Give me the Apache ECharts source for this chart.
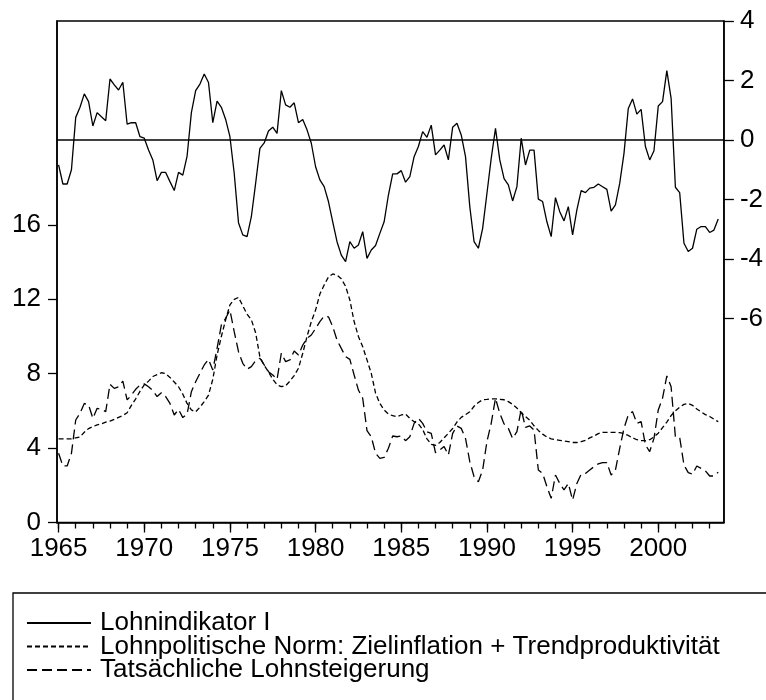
<!DOCTYPE html>
<html><head><meta charset="utf-8">
<script src="https://cdn.jsdelivr.net/npm/echarts@6/dist/echarts.min.js"></script>
<style>html,body{margin:0;padding:0;background:#fff}#c{width:766px;height:700px}</style>
</head><body><div id="c"></div>
<script>
// Quarterly data, first observation 1965Q1
const startYear = 1965;
const seriesNames = ['Lohnindikator I', 'Lohnpolitische Norm: Zielinflation + Trendproduktivität', 'Tatsächliche Lohnsteigerung'];

// Lohnindikator I (right axis)
const lohnindikator = [
 -0.84,-1.48,-1.48,-1.0, 0.76,1.1,1.55,1.29, 0.47,0.92,0.78,0.65, 2.05,1.85,1.68,1.94,
 0.53,0.58,0.58,0.11, 0.06,-0.34,-0.67,-1.37, -1.09,-1.09,-1.4,-1.7, -1.09,-1.18,-0.54,0.92,
 1.66,1.88,2.22,1.93, 0.58,1.31,1.1,0.69, 0.11,-1.12,-2.78,-3.19, -3.25,-2.58,-1.46,-0.28,
 -0.1,0.3,0.43,0.22, 1.66,1.18,1.1,1.25, 0.58,0.69,0.34,-0.11, -0.9,-1.34,-1.57,-2.07,
 -2.75,-3.42,-3.87,-4.09, -3.42,-3.64,-3.53,-3.08, -3.98,-3.7,-3.55,-3.14, -2.75,-1.85,-1.14,-1.14,
 -1.03,-1.42,-1.23,-0.56, -0.22,0.28,0.09,0.5, -0.5,-0.34,-0.17,-0.67, 0.43,0.56,0.17,-0.56,
 -2.24,-3.42,-3.64,-2.97, -1.8,-0.62,0.39,-0.67, -1.3,-1.51,-2.05,-1.57, 0.06,-0.84,-0.34,-0.34,
 -1.99,-2.07,-2.75,-3.25, -1.94,-2.41,-2.72,-2.24, -3.19,-2.35,-1.7,-1.77, -1.62,-1.59,-1.48,-1.57,
 -1.66,-2.39,-2.18,-1.46, -0.45,1.06,1.38,0.87, 1.03,-0.22,-0.67,-0.36, 1.14,1.29,2.33,1.4,
 -1.59,-1.77,-3.47,-3.75, -3.64,-3.0,-2.91,-2.91, -3.11,-3.03,-2.66
];

// Lohnpolitische Norm (left axis)
const norm = [
 4.5,4.5,4.5,4.5, 4.55,4.6,4.85,5.05, 5.15,5.25,5.3,5.4, 5.45,5.55,5.65,5.75,
 5.9,6.3,6.65,7.05, 7.4,7.6,7.85,7.95, 8.05,8.0,7.8,7.55, 7.3,6.9,6.4,6.05,
 5.95,6.2,6.5,6.85, 7.7,9.0,10.0,10.9, 11.7,12.0,12.1,11.65, 11.2,10.9,10.2,8.9,
 8.45,8.1,7.7,7.4, 7.3,7.35,7.6,7.9, 8.29,9.1,10.0,10.8, 11.42,12.28,12.77,13.2,
 13.36,13.3,13.1,12.7, 11.96,10.8,10.0,9.45, 8.74,8.02,6.95,6.4, 6.05,5.83,5.74,5.69,
 5.78,5.83,5.6,5.42, 5.3,5.0,4.5,4.2, 4.15,4.3,4.55,4.8, 5.05,5.4,5.65,5.8,
 5.95,6.25,6.45,6.6, 6.62,6.65,6.65,6.62, 6.6,6.5,6.35,6.15, 5.9,5.7,5.5,5.2,
 4.95,4.75,4.6,4.5, 4.45,4.42,4.38,4.35, 4.3,4.3,4.35,4.42, 4.55,4.65,4.78,4.85,
 4.85,4.85,4.85,4.83, 4.78,4.68,4.55,4.45, 4.4,4.4,4.45,4.6, 4.8,5.1,5.4,5.75,
 6.0,6.2,6.35,6.4, 6.3,6.1,5.95,5.8, 5.7,5.55,5.42
];

// Tatsächliche Lohnsteigerung (left axis)
const actual = [
 3.72,3.04,3.04,3.72, 5.51,5.87,6.4,6.32, 5.6,6.14,6.08,5.96, 7.43,7.21,7.3,7.6,
 6.59,6.85,7.16,7.39, 7.45,7.3,7.09,6.77, 6.98,6.77,6.4,5.78, 6.08,5.64,5.83,7.03,
 7.57,8.02,8.47,8.77, 8.2,9.36,10.62,10.98, 11.42,10.26,9.18,8.56, 8.24,8.38,8.7,8.83,
 8.47,8.11,7.93,7.7, 9.1,8.65,8.74,9.22, 9.0,9.54,9.9,10.08, 10.43,10.8,11.1,11.06,
 10.53,9.81,9.36,8.92, 8.77,7.93,7.12,6.68, 4.94,4.61,3.72,3.45, 3.5,3.99,4.65,4.61,
 4.65,4.4,4.61,5.33, 5.6,5.33,4.88,4.79, 3.75,3.9,4.08,3.63, 4.79,5.19,5.06,4.52,
 3.27,2.46,2.19,2.82, 4.35,5.33,6.68,5.87, 5.3,5.06,4.52,4.88, 6.08,5.11,5.19,4.97,
 2.82,2.64,1.93,1.3, 2.55,2.1,1.75,2.1, 1.21,2.1,2.6,2.64, 2.82,3.0,3.15,3.22,
 3.22,2.55,2.82,3.99, 5.06,5.78,5.96,5.33, 5.42,4.17,3.81,4.52, 6.05,6.68,7.88,7.3,
 4.61,4.58,3.09,2.68, 2.6,3.04,2.91,2.78, 2.5,2.5,2.7
];

const xTickYears = [1965,1966,1967,1968,1969,1970,1971,1972,1973,1974,1975,1976,1977,1978,1979,1980,1981,1982,1983,1984,1985,1986,1987,1988,1989,1990,1991,1992,1993,1994,1995,1996,1997,1998,1999,2000,2001,2002,2003];
const xLabelYears = [1965,1970,1975,1980,1985,1990,1995,2000];
const leftLabels = [0,4,8,12,16];
const rightLabels = [-6,-4,-2,0,2,4];

const quarters = lohnindikator.map((_, i) => startYear + i / 4);
const pairs = arr => arr.map((v, i) => [quarters[i], v]);

const FONT = "'Liberation Sans', Arial, sans-serif";
const black = '#000';
const clear = 'rgba(0,0,0,0)';
const xMin = 1964.907, xMax = 2003.83;

const chart = echarts.init(document.getElementById('c'), null, {renderer: 'canvas'});
chart.setOption({
  animation: false,
  backgroundColor: '#fff',
  textStyle: {fontFamily: FONT},
  grid: {left: 57, top: 21, width: 671, height: 501.5, show: true, borderColor: black, borderWidth: 1.5, backgroundColor: 'transparent'},
  xAxis: [
    {type: 'value', min: xMin, max: xMax, position: 'bottom',
     axisLine: {show: true, onZero: false, lineStyle: {color: black, width: 1.5}},
     axisTick: {show: true, customValues: xTickYears, length: 6, lineStyle: {color: black, width: 1.3}},
     axisLabel: {show: false}, splitLine: {show: false}},
    {type: 'value', min: xMin, max: xMax, position: 'bottom',
     axisLine: {show: false, onZero: false},
     axisTick: {show: true, customValues: xLabelYears, length: 10, lineStyle: {color: black, width: 1.3}},
     axisLabel: {show: true, customValues: xLabelYears, formatter: v => String(v), fontSize: 26, color: black, fontFamily: FONT, margin: 13},
     splitLine: {show: false}}
  ],
  yAxis: [
    {type: 'value', min: 0, max: 26.96, position: 'left',
     axisLine: {show: true, onZero: false, lineStyle: {color: black, width: 1.5}},
     axisTick: {show: true, customValues: leftLabels, length: 9, lineStyle: {color: black, width: 1.3}},
     axisLabel: {show: true, customValues: leftLabels, formatter: v => String(v), fontSize: 26, color: black, fontFamily: FONT, margin: 16},
     splitLine: {show: false}},
    {type: 'value', min: -12.86, max: 4, position: 'right',
     axisLine: {show: true, onZero: false, lineStyle: {color: black, width: 1.5}},
     axisTick: {show: true, customValues: rightLabels, length: 10, lineStyle: {color: black, width: 1.3}},
     axisLabel: {show: true, customValues: rightLabels, formatter: v => String(v), fontSize: 26, color: black, fontFamily: FONT, margin: 16},
     splitLine: {show: false}}
  ],
  legend: {
    orient: 'vertical', left: 26, top: 610, padding: 0, itemWidth: 64, itemHeight: 2, itemGap: -2.5,
    selectedMode: false, data: seriesNames,
    itemStyle: {color: clear, borderColor: clear, borderWidth: 0, opacity: 0},
    textStyle: {fontSize: 26, color: black, fontFamily: FONT, lineHeight: 26, padding: [0, 0, 0, 4]}
  },
  graphic: [{type: 'rect', shape: {x: 13, y: 593, width: 800, height: 200}, style: {fill: 'none', stroke: black, lineWidth: 1.3}, silent: true}],
  series: [
    {name: seriesNames[0], type: 'line', xAxisIndex: 0, yAxisIndex: 1, data: pairs(lohnindikator),
     symbol: 'none', showSymbol: false, lineStyle: {color: black, width: 1.3, type: 'solid'}, itemStyle: {color: black},
     markLine: {silent: true, symbol: ['none', 'none'], label: {show: false}, lineStyle: {color: black, width: 1.5, type: 'solid'}, data: [{yAxis: 0}]}},
    {name: seriesNames[1], type: 'line', xAxisIndex: 0, yAxisIndex: 0, data: pairs(norm),
     symbol: 'none', showSymbol: false, lineStyle: {color: black, width: 1.3, type: [5, 3]}, itemStyle: {color: black}},
    {name: seriesNames[2], type: 'line', xAxisIndex: 0, yAxisIndex: 0, data: pairs(actual),
     symbol: 'none', showSymbol: false, lineStyle: {color: black, width: 1.3, type: [10, 5]}, itemStyle: {color: black}}
  ]
});
</script></body></html>
